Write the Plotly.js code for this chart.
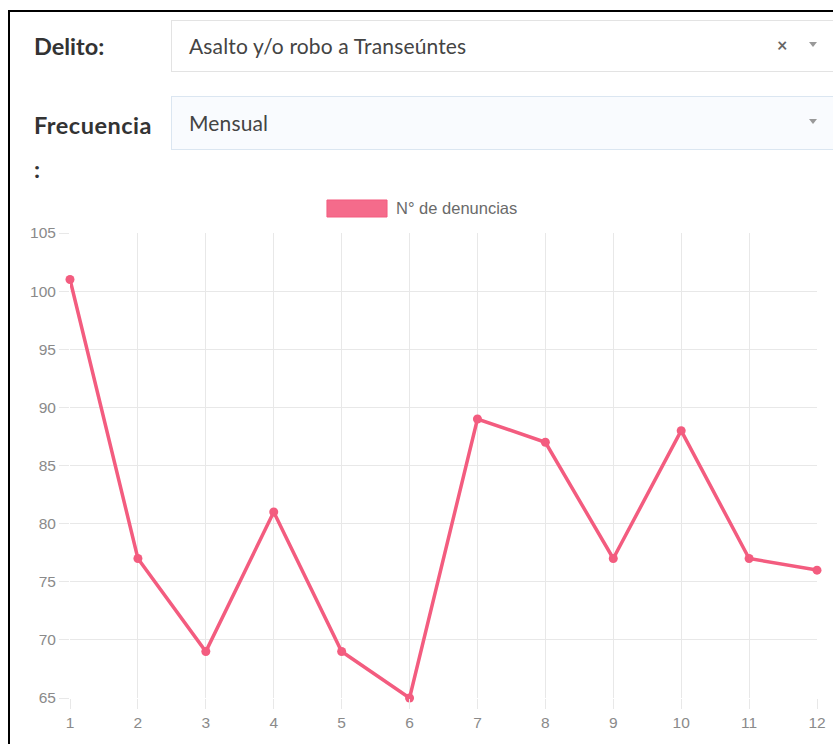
<!DOCTYPE html>
<html>
<head>
<meta charset="utf-8">
<script src="https://cdn.plot.ly/plotly-3.0.1.min.js"></script>
<style>
  html, body { margin: 0; padding: 0; background: #fff; width: 833px; height: 744px; overflow: hidden; }
  #chart { position: absolute; left: 0; top: 0; width: 833px; height: 744px; }
  .frame { position: absolute; left: 8px; top: 10px; width: 840px; height: 760px;
           border-top: 2px solid #000; border-left: 2px solid #000; pointer-events: none; z-index: 3; }
  .lbl { position: absolute; font-family: Lato, "Noto Sans", sans-serif; line-height: 1;
         font-weight: 700; font-size: 23.5px; color: #333; z-index: 2; }
  .sel { position: absolute; left: 171px; width: 670px; box-sizing: border-box;
         border: 1px solid #e3e3e3; background: #fff; z-index: 2;
         font-family: Lato, "Noto Sans", sans-serif; font-size: 21px; color: #444; }
  .sel .txt { position: absolute; left: 17px; top: 50%; transform: translateY(-52%); letter-spacing: 0.15px; }
  .sel .clr { position: absolute; left: 605px; top: 50%; transform: translateY(-55%); font-size: 18px; color: #666; font-weight: 700; }
  .sel .arr { position: absolute; left: 637px; top: 50%; width: 0; height: 0; margin-top: -4px;
              border-left: 4.5px solid transparent; border-right: 4.5px solid transparent; border-top: 5px solid #999; }
  .focus { border-color: #dbe6f1; background: #f9fbfe; }
</style>
</head>
<body>
<div id="chart"></div>
<div class="frame"></div>

<div class="lbl" style="left:34px; top:35px;">Delito:</div>
<div class="sel" style="top:20px; height:52px;">
  <span class="txt">Asalto y/o robo a Transeúntes</span>
  <span class="clr">×</span>
  <span class="arr"></span>
</div>

<div class="lbl" style="left:34px; top:114px; letter-spacing: 0.5px;">Frecuencia</div>
<div class="lbl" style="left:34px; top:158px;">:</div>
<div class="sel focus" style="top:96px; height:54px;">
  <span class="txt">Mensual</span>
  <span class="arr"></span>
</div>

<script>
// Monthly count of reports for the selected crime
const months = [1, 2, 3, 4, 5, 6, 7, 8, 9, 10, 11, 12];
const denuncias = [101, 77, 69, 81, 69, 65, 89, 87, 77, 88, 77, 76];
const seriesName = "N° de denuncias";
const yTicks = [65, 70, 75, 80, 85, 90, 95, 100, 105];

const pink = "#f35c7f";
const gridColor = "#e8e8e8";
const tickFont = { family: "Liberation Sans, Arial, sans-serif", size: 15.5, color: "#8a8a8a" };

const trace = {
  x: months,
  y: denuncias,
  name: seriesName,
  type: "scatter",
  mode: "lines+markers",
  line: { color: pink, width: 3.5 },
  marker: { color: pink, size: 9 },
  showlegend: false,
  cliponaxis: false
};

const layout = {
  width: 833,
  height: 744,
  margin: { l: 70, r: 16, t: 233, b: 46, pad: 0 },
  paper_bgcolor: "rgba(0,0,0,0)",
  plot_bgcolor: "#fff",
  xaxis: {
    range: [months[0], months[months.length - 1]],
    tickvals: months,
    ticktext: months.map(String),
    showgrid: true, gridcolor: gridColor, gridwidth: 1,
    zeroline: false, showline: false,
    ticks: "outside", ticklen: 10, tickcolor: gridColor, tickwidth: 1,
    tickfont: tickFont, fixedrange: true
  },
  yaxis: {
    range: [yTicks[0], yTicks[yTicks.length - 1]],
    tickvals: yTicks,
    ticktext: yTicks.map(String),
    showgrid: true, gridcolor: gridColor, gridwidth: 1,
    zeroline: false, showline: false,
    ticks: "outside", ticklen: 10, tickcolor: gridColor, tickwidth: 1,
    tickfont: tickFont, fixedrange: true
  },
  shapes: [
    { type: "rect", xref: "paper", yref: "paper",
      x0: 0.344, x1: 0.4244, y0: 1.0344, y1: 1.071,
      fillcolor: "#f56b8b", line: { color: pink, width: 1 } }
  ],
  annotations: [
    { xref: "paper", yref: "paper", x: 0.4337, y: 1.0538,
      xanchor: "left", yanchor: "middle", showarrow: false,
      text: seriesName, font: { family: "Liberation Sans, Arial, sans-serif", size: 16.5, color: "#6a6a6a" } }
  ]
};

Plotly.newPlot("chart", [trace], layout, { displayModeBar: false, staticPlot: true });
</script>
</body>
</html>
